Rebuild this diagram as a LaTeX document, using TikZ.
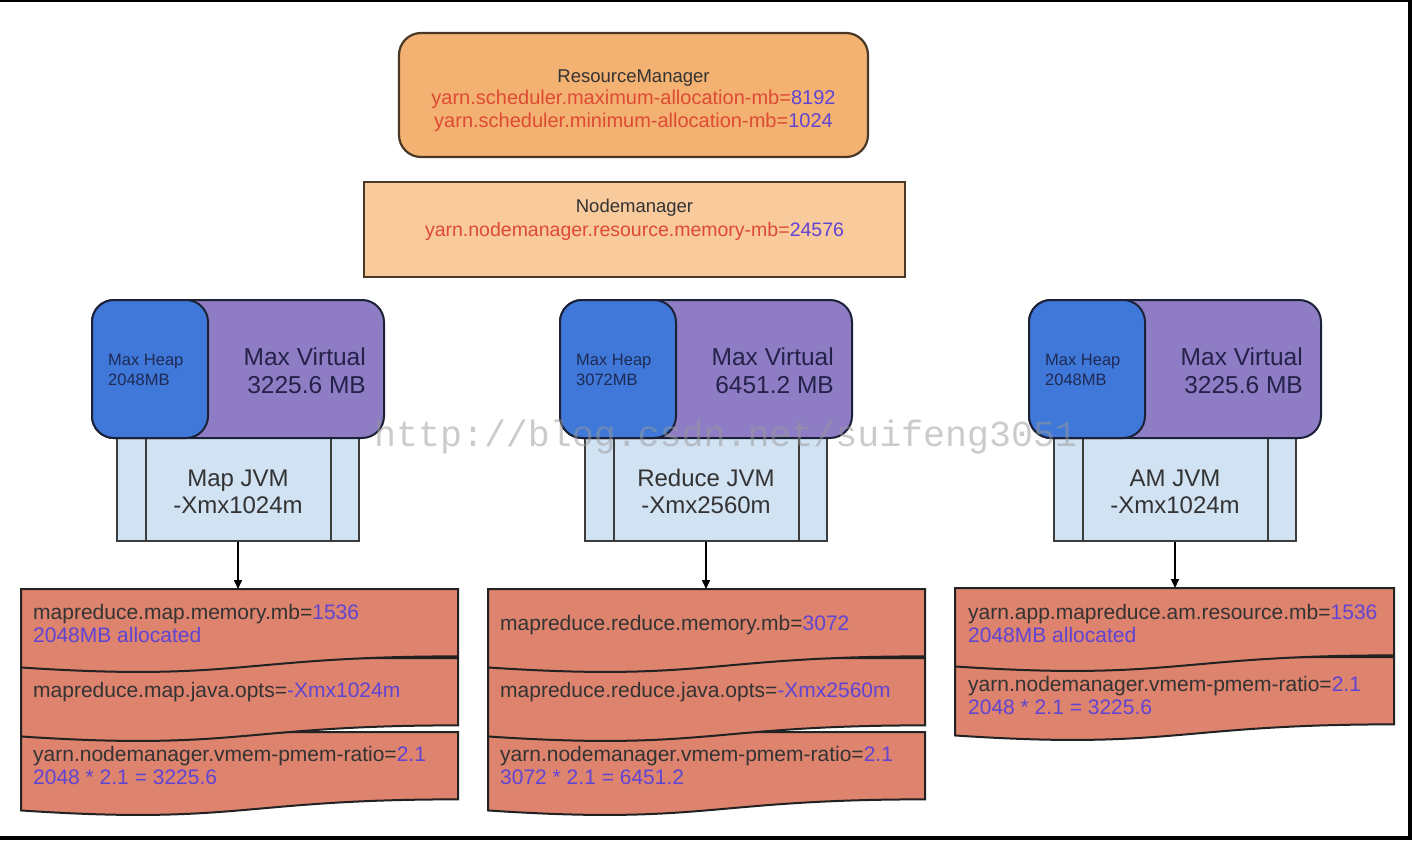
\documentclass[tikz,border=0pt]{standalone}
\usepackage{fontspec}
\setmainfont{Liberation Sans}
\newfontfamily\wmfont{Liberation Mono}
\usetikzlibrary{arrows.meta}
\definecolor{rmfill}{HTML}{F3B272}
\definecolor{nmfill}{HTML}{F8CA9C}
\definecolor{rmline}{HTML}{4A3826}
\definecolor{virtfill}{HTML}{8E7DC4}
\definecolor{heapfill}{HTML}{3F78D8}
\definecolor{jvmline}{HTML}{1B2238}
\definecolor{bodyfill}{HTML}{D1E2F3}
\definecolor{bodyedge}{HTML}{3C3C3C}
\definecolor{docfill}{HTML}{DD836E}
\definecolor{docedge}{HTML}{222222}
\definecolor{redtxt}{HTML}{DE4A33}
\definecolor{valtxt}{HTML}{6044D2}
\definecolor{darktxt}{HTML}{333333}
\definecolor{navytxt}{HTML}{1E2A55}
\definecolor{virttxt}{HTML}{24224A}
\newcommand\val[1]{\textcolor{valtxt}{#1}}
\newcommand\jvmblock[6]{%
  \node[bodybox, minimum width=242, minimum height=111] (#1-body) at ({#2+146},485.5) {};
  \draw[bodyline] ([xshift=30pt]#1-body.south west) -- ([xshift=30pt]#1-body.north west);
  \draw[bodyline] ([xshift=-29pt]#1-body.south east) -- ([xshift=-29pt]#1-body.north east);
  \node[virtbox, minimum width=292, minimum height=138] (#1-virt) at ({#2+146},369) {};
  \node[heapbox, minimum width=116, minimum height=138] (#1-heap) at ({#2+58},369) {};
  \node[heaptext, anchor=west] (#1-heapt) at ({#2+16},370) {Max Heap\\#3MB};
  \node[virttext, anchor=east] (#1-virtt) at ({#2+274},371) {Max Virtual\\#4 MB};
  \node[bodytext] (#1-bodyt) at ({#2+146},491.5) {#5 JVM\\-Xmx#6m};
}
\newcommand\docsec[4]{%
  \filldraw[docsty] (#1,#3) -- (#2,#3) -- (#2,{#3+0.802*#4})
    .. controls ({(#1+#2)/2},{#3+0.802*#4}) and ({(#1+#2)/2},{#3+1.1075*#4}) ..
    (#1,{#3+0.934*#4}) -- cycle;
}
\tikzset{
  rmbox/.style={draw=rmline, fill=rmfill, line width=2.2pt, rounded corners=22pt},
  nmbox/.style={draw=rmline, fill=nmfill, line width=2pt},
  virtbox/.style={draw=jvmline, fill=virtfill, line width=2pt, rounded corners=22pt},
  heapbox/.style={draw=jvmline, fill=heapfill, line width=2pt, rounded corners=22pt},
  bodybox/.style={draw=bodyedge, fill=bodyfill, line width=2pt},
  bodyline/.style={draw=bodyedge, line width=2pt},
  docsty/.style={draw=docedge, fill=docfill, line width=2pt},
  heaptext/.style={text=navytxt, align=left, inner sep=0pt, font=\fontsize{16.5}{20}\selectfont},
  virttext/.style={text=virttxt, align=right, inner sep=0pt, font=\fontsize{24.5}{28}\selectfont},
  bodytext/.style={text=darktxt, align=center, inner sep=0pt, font=\fontsize{24}{27}\selectfont},
  doctext/.style={text=darktxt, align=left, anchor=west, inner sep=0pt, font=\fontsize{21}{23.5}\selectfont},
  toptext/.style={text=redtxt, align=center, inner sep=0pt},
  arr/.style={draw=black, line width=1.6pt, -{Triangle[length=9pt,width=8pt]}},
}
\begin{document}
\begin{tikzpicture}[x=1pt,y=-1pt]
\useasboundingbox (0,0) rectangle (1412,840);
\fill[white] (0,0) rectangle (1412,840);
% frame strips
\fill[black] (0,0) rectangle (1412,2);
\fill[black] (1408,0) rectangle (1412,840);
\fill[black] (0,836) rectangle (1412,840);
% ResourceManager
\node[rmbox, minimum width=469, minimum height=124] (rm) at (633.5,95) {};
\node[toptext, font=\fontsize{20}{22.5}\selectfont] (rmtext) at (633.5,100.5)
  {\textcolor{darktxt}{\fontsize{18.5}{22.5}\selectfont ResourceManager}\\
   yarn.scheduler.maximum-allocation-mb=\val{8192}\\
   yarn.scheduler.minimum-allocation-mb=\val{1024}};
% Nodemanager
\node[nmbox, minimum width=541, minimum height=95] (nm) at (634.5,229.5) {};
\node[toptext, font=\fontsize{19.5}{24}\selectfont] (nmtext) at (634.5,220)
  {\textcolor{darktxt}{\fontsize{18.5}{24}\selectfont Nodemanager}\\
   yarn.nodemanager.resource.memory-mb=\val{24576}};
% JVM blocks
\jvmblock{map}{92}{2048}{3225.6}{Map}{1024}
\jvmblock{red}{560}{3072}{6451.2}{Reduce}{2560}
\jvmblock{am}{1029}{2048}{3225.6}{AM}{1024}
% documents: left
\docsec{21}{458}{732}{84}
\docsec{21}{458}{658}{84}
\docsec{21}{458}{589}{84}
\coordinate (mapdoc) at (238,589);
\node[doctext] (mapd1) at (33,623.5) {mapreduce.map.memory.mb=\val{1536}\\\val{2048MB allocated}};
\node[doctext] (mapd2) at (33,692) {mapreduce.map.java.opts=\val{-Xmx1024m}};
\node[doctext] (mapd3) at (33,765.5) {yarn.nodemanager.vmem-pmem-ratio=\val{2.1}\\\val{2048 * 2.1 = 3225.6}};
% documents: middle
\docsec{488}{925}{732}{84}
\docsec{488}{925}{658}{84}
\docsec{488}{925}{589}{84}
\coordinate (reddoc) at (706,589);
\node[doctext] (redd1) at (500,625) {mapreduce.reduce.memory.mb=\val{3072}};
\node[doctext] (redd2) at (500,692) {mapreduce.reduce.java.opts=\val{-Xmx2560m}};
\node[doctext] (redd3) at (500,765.5) {yarn.nodemanager.vmem-pmem-ratio=\val{2.1}\\\val{3072 * 2.1 = 6451.2}};
% documents: right
\docsec{955}{1394}{657}{84}
\docsec{955}{1394}{588}{84}
\coordinate (amdoc) at (1175,588);
\node[doctext] (amd1) at (968,623.5) {yarn.app.mapreduce.am.resource.mb=\val{1536}\\\val{2048MB allocated}};
\node[doctext] (amd2) at (968,695.5) {yarn.nodemanager.vmem-pmem-ratio=\val{2.1}\\\val{2048 * 2.1 = 3225.6}};
% arrows
\draw[arr] (map-body.south) -- (mapdoc);
\draw[arr] (red-body.south) -- (reddoc);
\draw[arr] (am-body.south) -- (amdoc);
% watermark
\node[anchor=base west, inner sep=0pt, text=black!40, text opacity=0.5, font=\wmfont\fontsize{36.6}{40}\selectfont] (wm) at (374,446) {http://blog.csdn.net/suifeng3051};
\end{tikzpicture}
\end{document}
